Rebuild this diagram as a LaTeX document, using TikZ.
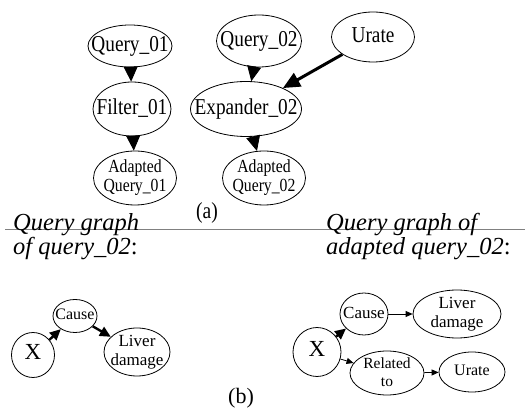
\documentclass[tikz,border=0pt]{standalone}
\usepackage{fontspec}
\setmainfont{Liberation Serif}
\newfontfamily\narrowfont{Liberation Serif}[FakeStretch=0.85]
\usetikzlibrary{shapes.geometric, arrows.meta, positioning}

% text of fixed-size ellipses: centred, takes no room
\newcommand{\ctext}[1]{\smash{\raisebox{-0.27em}{\makebox[0pt]{\begin{tabular}{@{}c@{}}#1\end{tabular}}}}}

\begin{document}
\begin{tikzpicture}[x=1pt, y=-1pt]
    \tikzset{
        base/.style = {ellipse, draw, line width=0.8pt, inner sep=0pt},
        bignode/.style = {base, font=\narrowfont\fontsize{22.7}{22}\selectfont},
        twoline/.style = {base, font=\narrowfont\fontsize{18.5}{19}\selectfont},
        small/.style = {base, font=\fontsize{16}{19}\selectfont},
        line/.style = {draw, line width=0.8pt, -{Triangle[length=15pt, width=14pt]}},
        boldline/.style = {draw, line width=3pt, -{Triangle[length=17pt, width=15pt]}},
        thickline/.style = {draw, line width=2.4pt, -{Triangle[length=11pt, width=10pt]}},
        thinline/.style = {draw, line width=0.8pt, -{Triangle[length=7pt, width=6pt]}}
    }
    \useasboundingbox (0,0) rectangle (525,411);

    % (a) the two query pipelines
    \node[bignode, minimum width=84pt, minimum height=42pt] (query1) at (130,46) {\ctext{Query\_01}};
    \node[bignode, minimum width=78pt, minimum height=54pt] (filter1) at (132,109) {\ctext{Filter\_01}};
    \node[twoline, minimum width=83pt, minimum height=54pt] (adapted1) at (135,178) {\ctext{Adapted\\Query\_01}};
    \node[bignode, minimum width=85pt, minimum height=52pt] (query2) at (259,41) {\ctext{Query\_02}};
    \node[bignode, minimum width=83pt, minimum height=50pt] (urate) at (373,37) {\ctext{Urate}};
    \node[bignode, minimum width=111pt, minimum height=55pt] (expander2) at (246,109) {\ctext{Expander\_02}};
    \node[twoline, minimum width=83pt, minimum height=54pt] (adapted2) at (264,178) {\ctext{Adapted\\Query\_02}};
    \node[font=\narrowfont\fontsize{23}{24}\selectfont] (labela) at (207,213) {(a)};

    \path[line] (query1) -- (filter1);
    \path[line] (filter1) -- (adapted1);
    \path[line] (query2) -- (expander2);
    \path[line] (expander2) -- (adapted2);
    \path[boldline] (urate) -- (expander2);

    \coordinate (sepleft) at (5,230);
    \coordinate (sepright) at (525,230);
    \draw[gray, line width=1pt] (sepleft) -- (sepright);

    % (b) query graphs
    \node[anchor=base west, align=left, inner sep=0pt, font=\fontsize{24.5}{24}\selectfont] (titleleft) at (13,255)
        {\textit{Query graph}\\\textit{of query\_02}:};
    \node[anchor=base west, align=left, inner sep=0pt, font=\fontsize{24.5}{24}\selectfont] (titleright) at (326,255)
        {\textit{Query graph of}\\\textit{adapted query\_02}:};

    \node[small, font=\fontsize{23}{24}\selectfont, minimum width=43pt, minimum height=45pt] (xleft) at (33,355) {\ctext{X}};
    \node[small, minimum width=44pt, minimum height=33pt] (causeleft) at (75,316) {\ctext{Cause}};
    \node[small, font=\fontsize{17}{19}\selectfont, minimum width=66pt, minimum height=48pt] (liverleft) at (137,352) {\ctext{Liver\\damage}};
    \path[thickline] (xleft) -- (causeleft);
    \path[thickline] (causeleft) -- (liverleft);

    \node[small, font=\fontsize{23}{24}\selectfont, minimum width=48pt, minimum height=49pt] (xright) at (317,352) {\ctext{X}};
    \node[small, font=\fontsize{17}{19}\selectfont, minimum width=48pt, minimum height=42pt] (causeright) at (364,314) {\ctext{Cause}};
    \node[small, font=\fontsize{17}{19}\selectfont, minimum width=88pt, minimum height=48pt] (liverright) at (457,314) {\ctext{Liver\\damage}};
    \node[small, font=\fontsize{15.5}{18}\selectfont, minimum width=74pt, minimum height=44pt] (related) at (387,373) {\ctext{Related\\to}};
    \node[small, minimum width=66pt, minimum height=40pt] (urateright) at (472,372) {\ctext{Urate}};
    \path[thickline] (xright) -- (causeright);
    \path[thinline] (causeright) -- (liverright);
    \path[thinline] (xright) -- (related);
    \path[thinline] (related) -- (urateright);

    \node[font=\fontsize{22}{24}\selectfont] (labelb) at (241,398) {(b)};
\end{tikzpicture}
\end{document}
